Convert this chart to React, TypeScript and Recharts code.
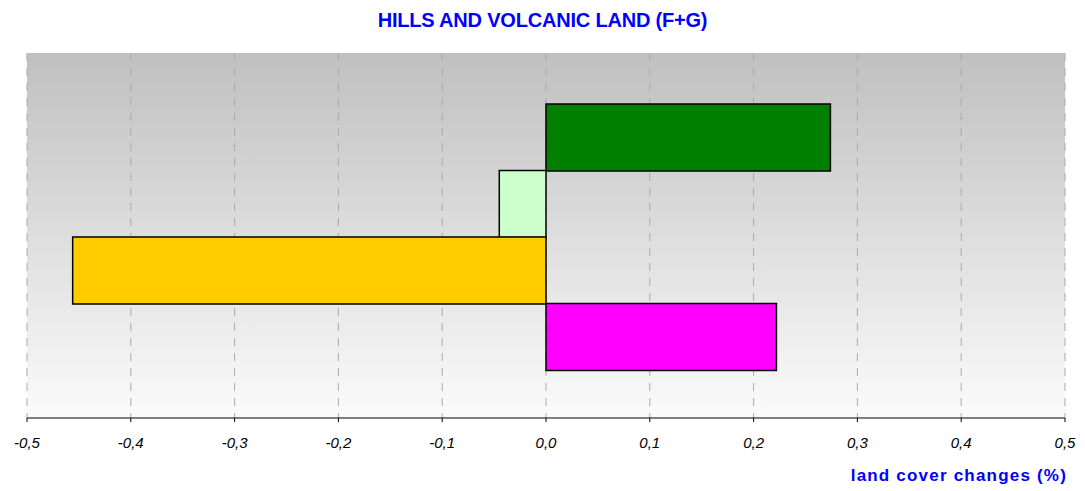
import React from 'react';
import { BarChart, Bar, XAxis, YAxis, CartesianGrid, Cell } from 'recharts';

const categories = ['Forest', 'Grassland', 'Agriculture', 'Artificial'];
const changes = [0.274, -0.045, -0.456, 0.222];
const colors = ['#008000', '#ccffcc', '#ffcc00', '#ff00ff'];
const xTicks = [-0.5, -0.4, -0.3, -0.2, -0.1, 0, 0.1, 0.2, 0.3, 0.4, 0.5];

const data = categories.map((name, i) => ({ name, value: changes[i] }));

const fmt = (v: number) => v.toFixed(1).replace('.', ',');

const TickLabel = (props: any) => {
  const { x, y, payload } = props;
  return (
    <text
      x={x}
      y={y + 24}
      textAnchor="middle"
      fill="#000000"
      fontSize={15}
      fontStyle="italic"
      fontFamily="Liberation Sans, Arial, sans-serif"
    >
      {fmt(payload.value)}
    </text>
  );
};

export default function App() {
  return (
    <div style={{ position: 'absolute', left: 0, top: 0, width: 1085, height: 491, fontFamily: 'Liberation Sans, Arial, sans-serif' }}>
      <div
        style={{
          position: 'absolute',
          left: 0,
          width: 1085,
          top: 9,
          textAlign: 'center',
          fontSize: 20,
          fontWeight: 'bold',
          color: '#0000ff',
          letterSpacing: -0.2,
        }}
      >
        HILLS AND VOLCANIC LAND (F+G)
      </div>
      <BarChart
        width={1085}
        height={491}
        data={data}
        layout="vertical"
        barCategoryGap={0}
        margin={{ top: 53, right: 20, bottom: 43, left: 27 }}
      >
        <defs>
          <linearGradient id="plotBg" x1="0" y1="0" x2="0" y2="1">
            <stop offset="0%" stopColor="#c0c0c0" />
            <stop offset="100%" stopColor="#fbfbfb" />
          </linearGradient>
        </defs>
        <CartesianGrid
          horizontal={false}
          fill="url(#plotBg)"
          stroke="#aaaaaa"
          strokeDasharray="8 7"
        />
        <XAxis
          type="number"
          domain={[-0.5, 0.5]}
          ticks={xTicks}
          axisLine={{ stroke: '#000000' }}
          tickLine={{ stroke: '#000000' }}
          tickSize={4}
          tick={<TickLabel />}
          interval={0}
        />
        <YAxis type="category" dataKey="name" hide padding={{ top: 51, bottom: 48 }} />
        <Bar dataKey="value" stroke="#000000" strokeWidth={1.5} isAnimationActive={false}>
          {data.map((d, i) => (
            <Cell key={d.name} fill={colors[i]} />
          ))}
        </Bar>
      </BarChart>
      <div
        style={{
          position: 'absolute',
          right: 18,
          top: 466,
          fontSize: 17,
          fontWeight: 'bold',
          color: '#0000ff',
          letterSpacing: 1.2,
        }}
      >
        land cover changes (%)
      </div>
    </div>
  );
}
